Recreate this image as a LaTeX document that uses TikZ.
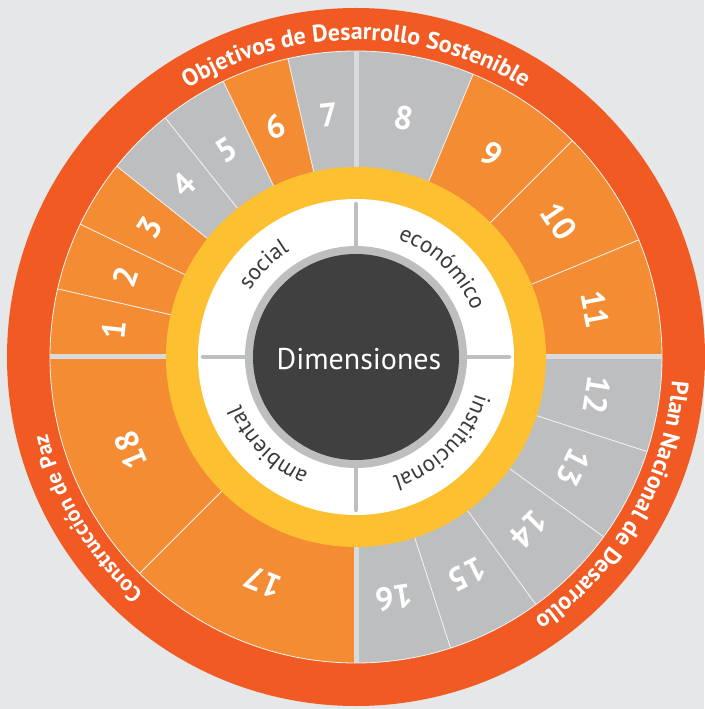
\documentclass[tikz,border=0pt]{standalone}
\usepackage{fontspec}
\setmainfont{PT Sans}
\usetikzlibrary{decorations.text}
\definecolor{bg}{HTML}{E6E7E8}
\definecolor{ringred}{HTML}{F15A22}
\definecolor{segorange}{HTML}{F48C33}
\definecolor{seggray}{HTML}{BCBEC0}
\definecolor{ringyellow}{HTML}{FDC030}
\definecolor{darkcore}{HTML}{404041}
\definecolor{labelgray}{HTML}{3A3A3C}
\definecolor{quadgap}{HTML}{D9DADC}
\newcommand\rimfont{\color{white}\bfseries\fontsize{24pt}{28pt}\selectfont}
\newcommand\rimfontsmall{\color{white}\bfseries\fontsize{22pt}{26pt}\selectfont}
\newcommand\dimfont{\color{labelgray}\fontsize{23pt}{26pt}\selectfont}
\tikzset{
  segline/.style={draw=white!60!bg, line width=0.8pt},
  quadline/.style={draw=quadgap, line width=5pt},
  dimline/.style={draw=seggray, line width=4.5pt, line cap=round},
  numlabel/.style={text=white, font=\bfseries\fontsize{33pt}{33pt}\selectfont, inner sep=0pt},
  centerlabel/.style={text=white, font=\fontsize{30pt}{36pt}\selectfont, inner sep=0pt, anchor=base},
}
\begin{document}
\begin{tikzpicture}
\useasboundingbox (-356pt,-352pt) rectangle (348pt,357pt);
\fill[bg] (-356pt,-352pt) rectangle (348pt,357pt);
% outer red ring
\fill[ringred] (0pt,0pt) circle[radius=349pt];
% segments
\foreach \a/\b/\c/\n in {
  180/167.142857/segorange/1, 167.142857/154.285714/segorange/2,
  154.285714/141.428571/segorange/3, 141.428571/128.571429/seggray/4,
  128.571429/115.714286/seggray/5, 115.714286/102.857143/segorange/6,
  102.857143/90/seggray/7,
  90/67.5/seggray/8, 67.5/45/segorange/9, 45/22.5/segorange/10, 22.5/0/segorange/11,
  0/-18/seggray/12, -18/-36/seggray/13, -36/-54/seggray/14, -54/-72/seggray/15, -72/-90/seggray/16,
  -90/-135/segorange/17, -135/-180/segorange/18}{
  \fill[\c] (0pt,0pt) -- (\a:306pt) arc[start angle=\a, end angle=\b, radius=306pt] -- cycle;
  \draw[segline] (\a:190pt) -- (\a:306pt);
  \pgfmathsetmacro\m{(\a+\b)/2}
  \node[numlabel, rotate=\m-90] (n\n) at (\m:244pt) {\n};
}
\draw[segline] (0pt,0pt) circle[radius=306pt];
\foreach \a in {0,90,180,270}{
  \draw[quadline] (\a:185pt) -- (\a:306pt);
}
% inner rings
\fill[ringyellow] (0pt,0pt) circle[radius=190pt];
\fill[white] (0pt,0pt) circle[radius=158pt];
\fill[seggray] (0pt,0pt) circle[radius=111pt];
\fill[darkcore] (0pt,0pt) circle[radius=103pt];
\foreach \a in {0,90,180,270}{
  \draw[dimline] (\a:108pt) -- (\a:153pt);
}
\node[centerlabel] (dim) at (3pt,-13pt) {Dimensiones};
% rim texts
\path[decorate, decoration={text along path, text align=center,
  text={|\rimfont|Objetivos de Desarrollo Sostenible}}]
  (155:317pt) arc[start angle=155, end angle=25, radius=317pt];
\path[decorate, decoration={text along path, text align=center,
  text={|\rimfont|Plan Nacional de Desarrollo}}]
  (25:317pt) arc[start angle=25, end angle=-85, radius=317pt];
\path[decorate, decoration={text along path, text align=center,
  text={|\rimfontsmall|Construcción de Paz}}]
  (256:318pt) arc[start angle=256, end angle=166, radius=318pt];
% dimension labels
\path[decorate, decoration={text along path, text align=center,
  text={|\dimfont|social}}]
  (165:125pt) arc[start angle=165, end angle=105, radius=125pt];
\path[decorate, decoration={text along path, text align=center,
  text={|\dimfont|económico}}]
  (96:125pt) arc[start angle=96, end angle=-4, radius=125pt];
\path[decorate, decoration={text along path, text align=center,
  text={|\dimfont|institucional}}]
  (5:125pt) arc[start angle=5, end angle=-95, radius=125pt];
\path[decorate, decoration={text along path, text align=center,
  text={|\dimfont|ambiental}}]
  (275:125pt) arc[start angle=275, end angle=175, radius=125pt];
\end{tikzpicture}
\end{document}
